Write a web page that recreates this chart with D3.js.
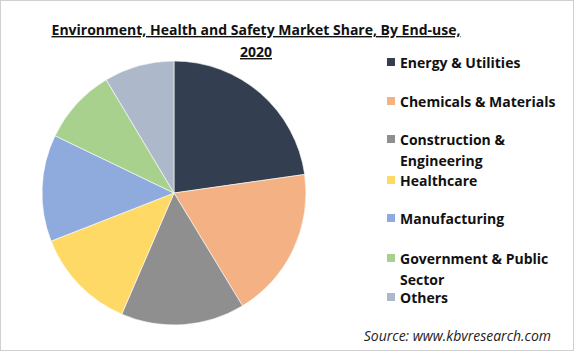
<!DOCTYPE html>
<html>
<head>
<meta charset="utf-8">
<script src="https://cdn.jsdelivr.net/npm/d3@7"></script>
<style>
body { margin: 0; background: #fff; }
text { font-family: "Open Sans", "Liberation Sans", sans-serif; }
</style>
</head>
<body>
<script>
const width = 574
const height = 351

// market share by end-use (percent)
const categories = ['Energy & Utilities', 'Chemicals & Materials', 'Construction & Engineering',
	'Healthcare', 'Manufacturing', 'Government & Public Sector', 'Others']
const shares = [22.8, 18.6, 15.2, 12.6, 13.1, 9.3, 8.6]
const colors = ['#333f50', '#f4b183', '#8f8f8f', '#ffd966', '#8faadc', '#a9d18e', '#adb9ca']
// legend labels wrap like the original
const legendLines = [['Energy & Utilities'], ['Chemicals & Materials'], ['Construction &', 'Engineering'],
	['Healthcare'], ['Manufacturing'], ['Government & Public', 'Sector'], ['Others']]
const legendY = [63, 102, 140, 181, 219, 259, 298]

const data = categories.map((c, i) => ({ name: c, value: shares[i] }))

const svg = d3.select('body').append('svg')
	.attr('width', width)
	.attr('height', height)

svg.append('rect')
	.attr('x', 0.5).attr('y', 0.5)
	.attr('width', width - 1).attr('height', height - 1)
	.attr('fill', '#fff')
	.attr('stroke', '#d0d0d0')

// title, underlined
const title = svg.append('text')
	.attr('text-anchor', 'middle')
	.attr('font-weight', 'bold')
	.attr('font-size', 14)
	.attr('text-decoration', 'underline')
	.attr('fill', '#111')
title.append('tspan').attr('x', 256).attr('y', 35).text('Environment, Health and Safety Market Share, By End-use,')
title.append('tspan').attr('x', 256).attr('y', 57).text('2020')

// pie
const pie = d3.pie().sort(null).value(d => d.value)
const arc = d3.arc().innerRadius(0).outerRadius(132)
const color = d3.scaleOrdinal().domain(categories).range(colors)

svg.append('g')
	.attr('transform', 'translate(174,193)')
	.selectAll('path')
	.data(pie(data))
	.join('path')
	.attr('d', arc)
	.attr('fill', d => color(d.data.name))
	.attr('stroke', '#fff')
	.attr('stroke-width', 0.6)

// legend
const lg = svg.append('g')
	.selectAll('g')
	.data(categories)
	.join('g')
	.attr('transform', (d, i) => `translate(387,${legendY[i]})`)

lg.append('rect')
	.attr('y', -5).attr('width', 8).attr('height', 8)
	.attr('fill', d => color(d))

lg.append('text')
	.attr('x', 13)
	.attr('font-size', 14)
	.attr('font-weight', 'bold')
	.attr('fill', '#111')
	.selectAll('tspan')
	.data((d, i) => legendLines[i])
	.join('tspan')
	.attr('x', 13)
	.attr('y', (d, i) => 5 + i * 21)
	.text(d => d)

svg.append('text')
	.attr('x', 551).attr('y', 341)
	.attr('text-anchor', 'end')
	.attr('font-size', 14)
	.attr('font-style', 'italic')
	.attr('fill', '#222')
	.text('Source: www.kbvresearch.com')
</script>
</body>
</html>
